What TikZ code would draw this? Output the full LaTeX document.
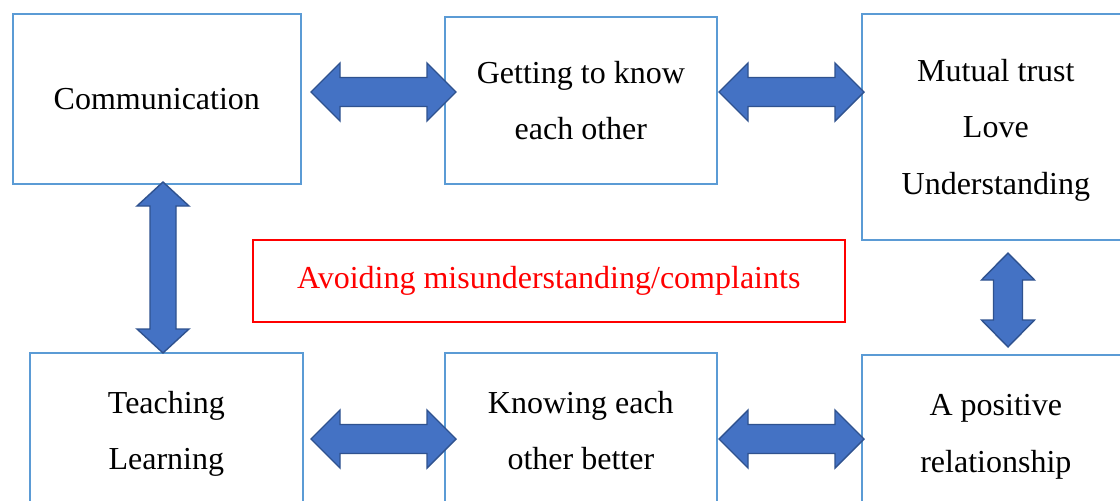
\documentclass[tikz,border=0pt]{standalone}
\usepackage{fontspec}
\setmainfont{Liberation Serif}
\definecolor{boxblue}{HTML}{5B9BD5}
\definecolor{arrfill}{HTML}{4472C4}
\definecolor{arrline}{HTML}{2F528F}
% horizontal block double arrow: x1 x2 y shafthalf headhalf headlen
\newcommand{\myharrow}[6]{%
  \filldraw[blockarrow] (#1,#3) -- ({#1+#6},{#3-#5}) -- ({#1+#6},{#3-#4}) -- ({#2-#6},{#3-#4}) -- ({#2-#6},{#3-#5}) -- (#2,#3) -- ({#2-#6},{#3+#5}) -- ({#2-#6},{#3+#4}) -- ({#1+#6},{#3+#4}) -- ({#1+#6},{#3+#5}) -- cycle;}
% vertical block double arrow: y1 y2 x shafthalf headhalf headlen
\newcommand{\myvarrow}[6]{%
  \filldraw[blockarrow] (#3,#1) -- ({#3-#5},{#1+#6}) -- ({#3-#4},{#1+#6}) -- ({#3-#4},{#2-#6}) -- ({#3-#5},{#2-#6}) -- (#3,#2) -- ({#3+#5},{#2-#6}) -- ({#3+#4},{#2-#6}) -- ({#3+#4},{#1+#6}) -- ({#3+#5},{#1+#6}) -- cycle;}
\begin{document}
\begin{tikzpicture}[x=1pt,y=-1pt,
  box/.style={draw=boxblue,line width=1.7pt,align=center,inner sep=0pt,anchor=north west,
    font=\fontsize{32}{56.5}\selectfont},
  redbox/.style={draw=red,line width=1.5pt,text=red,align=center,inner sep=0pt,anchor=north west,
    font=\fontsize{32}{56.5}\selectfont},
  blockarrow/.style={fill=arrfill,draw=arrline,line width=1.4pt,line join=miter}]
\useasboundingbox (0,0) rectangle (1120,501);
\clip (0,0) rectangle (1120,501);
\fill[white] (0,0) rectangle (1120,501);
\node[box,minimum width=288pt,minimum height=170pt] (comm) at (12,13) {Communication};
\node[box,minimum width=272pt,minimum height=167pt] (know) at (444,16) {Getting to know\\each other};
\node[box,minimum width=268pt,minimum height=226pt,text depth=0pt] (trust) at (861,13) {Mutual trust\\Love\\Understanding};
\node[box,minimum width=273pt,minimum height=155pt,text depth=0pt] (teach) at (29,352) {Teaching\\Learning};
\node[box,minimum width=272pt,minimum height=155pt] (better) at (444,352) {Knowing each\\other better};
\node[box,minimum width=268pt,minimum height=157pt,text depth=0pt] (positive) at (861,354) {A positive\\relationship};
\node[redbox,minimum width=592pt,minimum height=82pt] (avoid) at (252,239) {Avoiding misunderstanding/complaints};
% connectors (block double arrows)
\myharrow{311}{456}{92}{14.5}{29}{29}
\myharrow{719}{864}{92}{14.5}{29}{29}
\myharrow{311}{456}{439}{14.5}{29}{29}
\myharrow{719}{864}{439}{14.5}{29}{29}
\myvarrow{182}{353}{163}{13}{26}{24}
\myvarrow{253}{347}{1008}{14.5}{26.5}{27}
\end{tikzpicture}
\end{document}
